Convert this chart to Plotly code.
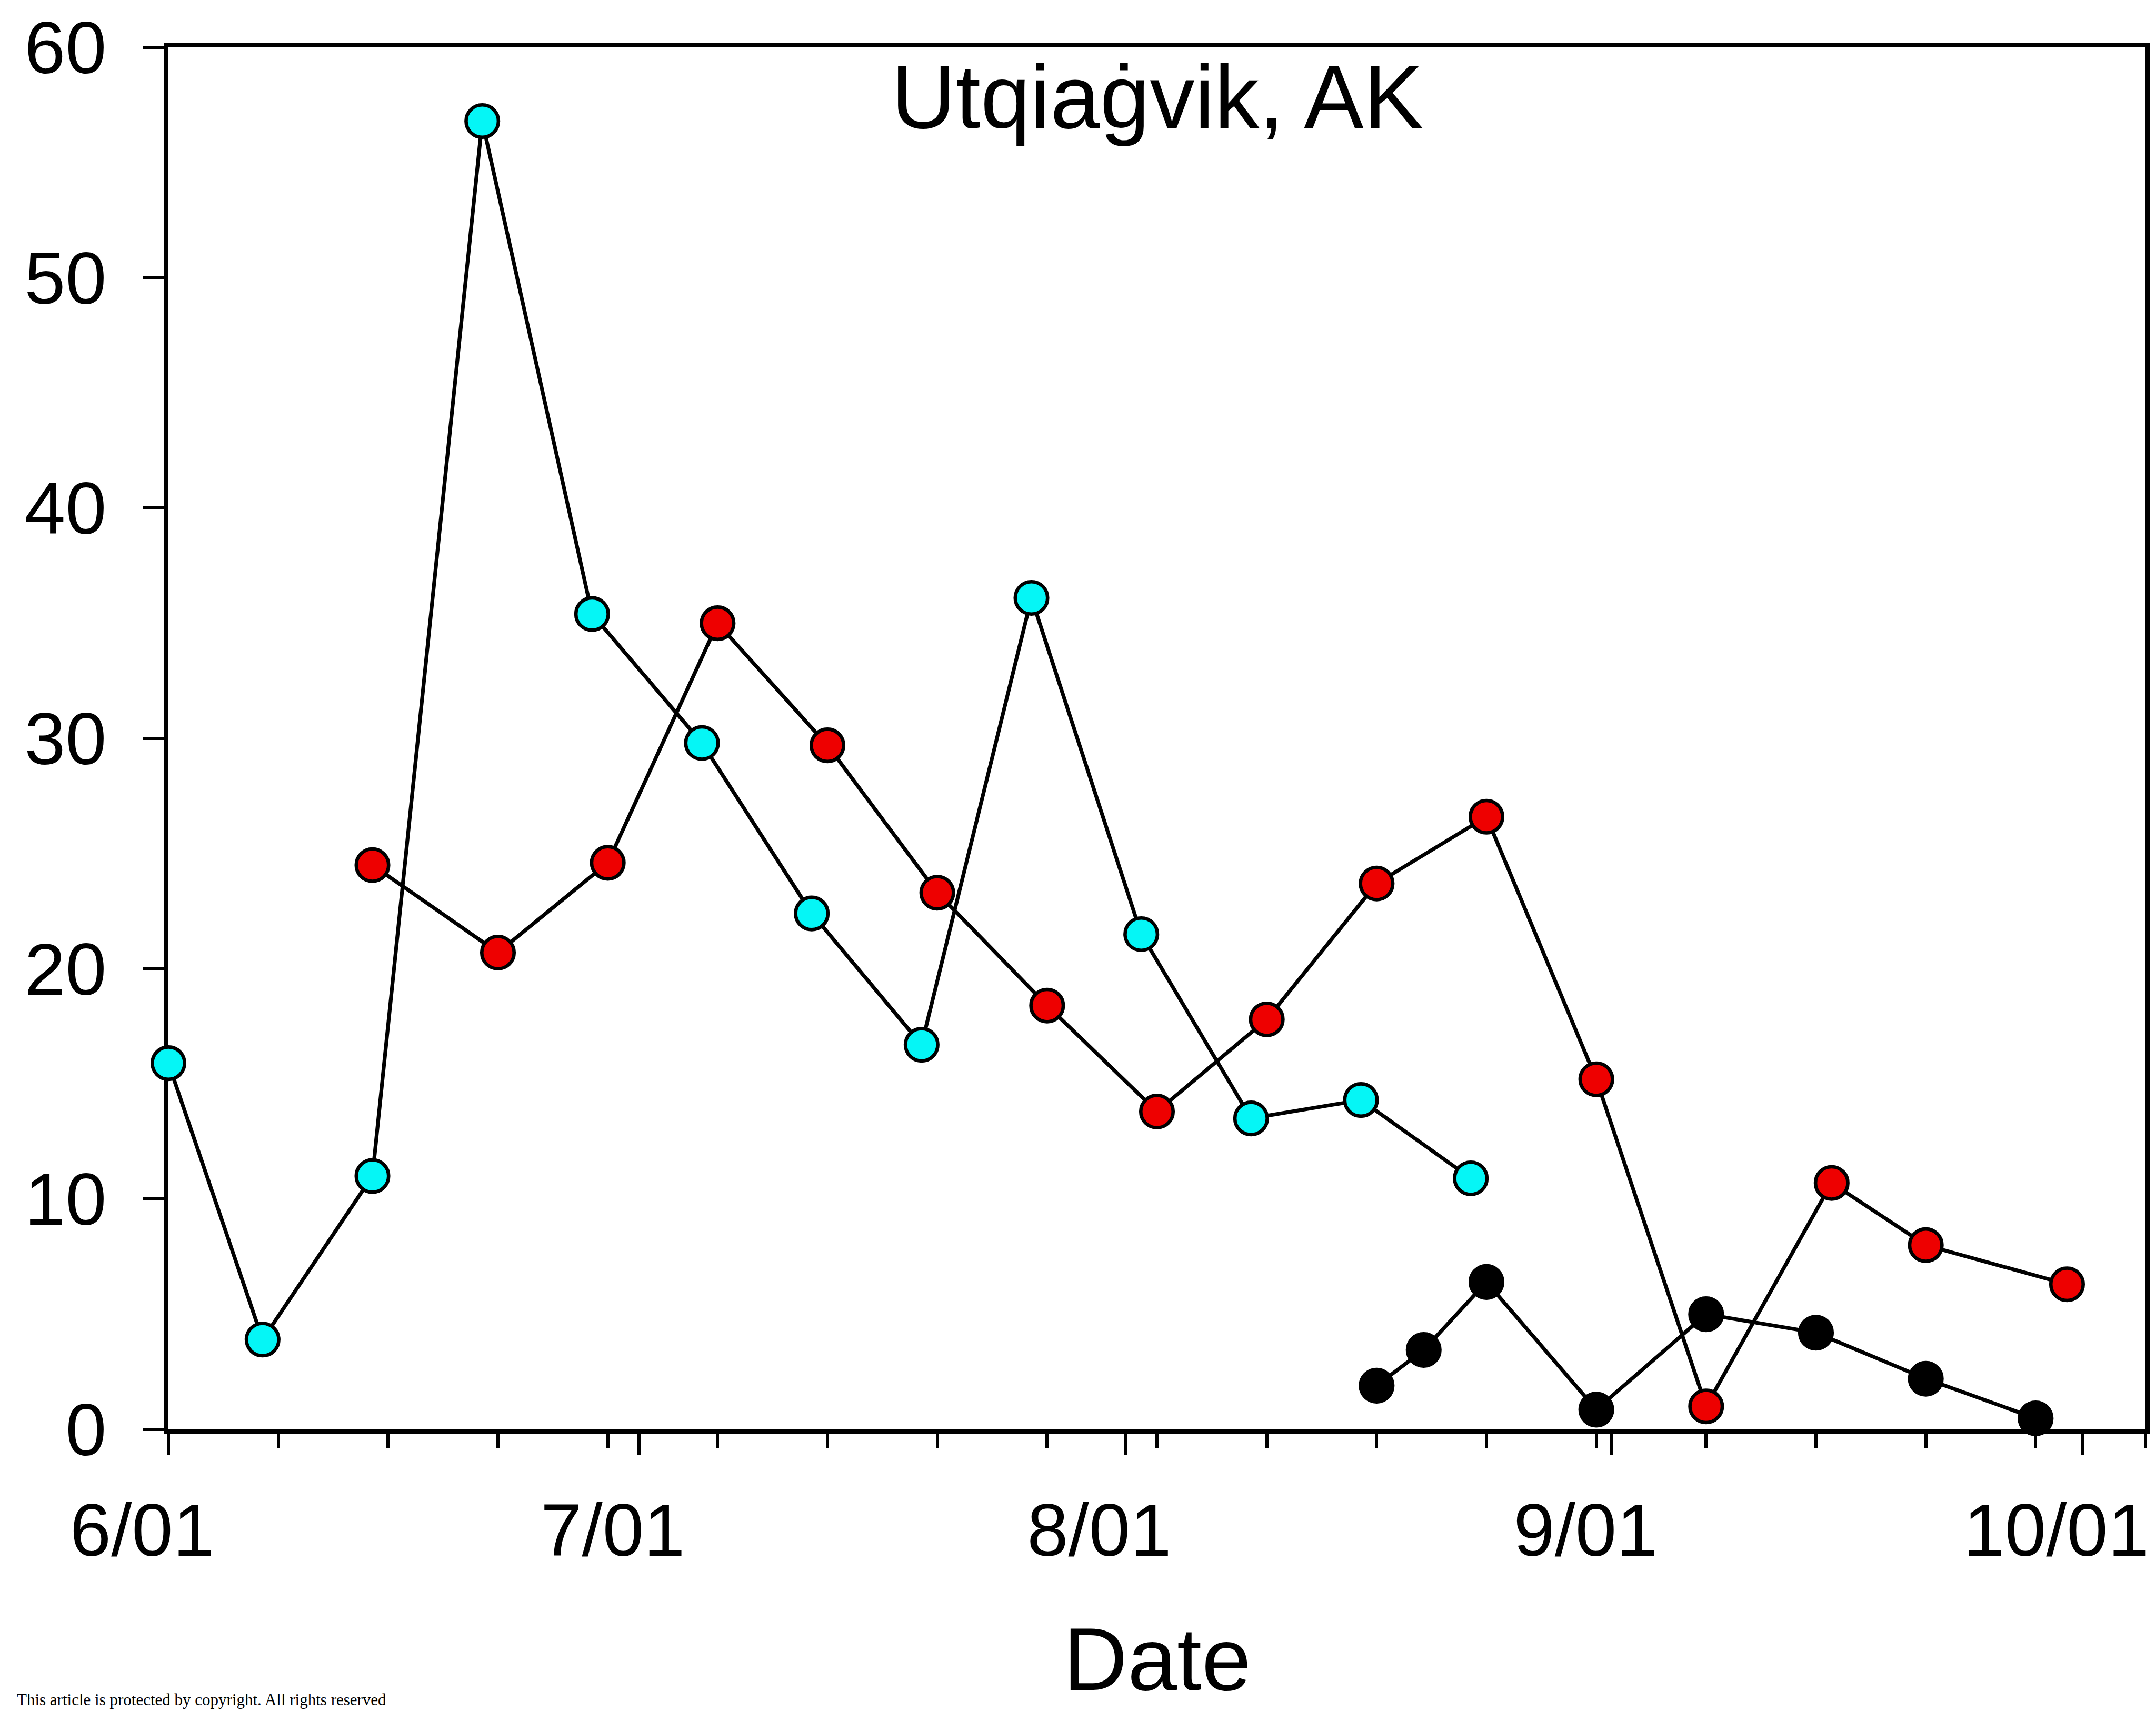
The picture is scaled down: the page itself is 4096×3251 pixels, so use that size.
import plotly.graph_objects as go

# ---- data ----
cyan_dates = ["2019-06-01", "2019-06-07", "2019-06-14", "2019-06-21", "2019-06-28",
              "2019-07-05", "2019-07-12", "2019-07-19", "2019-07-26", "2019-08-02",
              "2019-08-09", "2019-08-16", "2019-08-23"]
cyan_vals = [15.9, 3.9, 11.0, 56.8, 35.4, 29.8, 22.4, 16.7, 36.1, 21.5, 13.5, 14.3, 10.9]

red_dates = ["2019-06-14", "2019-06-22", "2019-06-29", "2019-07-06", "2019-07-13",
             "2019-07-20", "2019-07-27", "2019-08-03", "2019-08-10", "2019-08-17",
             "2019-08-24", "2019-08-31", "2019-09-07", "2019-09-15", "2019-09-21",
             "2019-09-30"]
red_vals = [24.5, 20.7, 24.6, 35.0, 29.7, 23.3, 18.4, 13.8, 17.8, 23.7, 26.6, 15.2,
            1.0, 10.7, 8.0, 6.3]

black_dates = ["2019-08-17", "2019-08-20", "2019-08-24", "2019-08-31", "2019-09-07",
               "2019-09-14", "2019-09-21", "2019-09-28"]
black_vals = [1.9, 3.45, 6.4, 0.86, 5.0, 4.2, 2.2, 0.48]

title_text = "Utqiaġvik, AK"
x_title = "Date"
footer_text = "This article is protected by copyright. All rights reserved"

x_range = ["2019-06-01", "2019-10-05"]
y_range = [0, 60]

# ---- styling ----
FONT = "Liberation Sans, Arial, sans-serif"
W, H = 4096, 3251
ML, MR, MT, MB = 320, 20, 82, 535
LW = 7.2
MS = 61.5
MLW = 6.6

fig = go.Figure()
series = [
    (cyan_dates, cyan_vals, "#05f6f6"),
    (red_dates, red_vals, "#ee0000"),
    (black_dates, black_vals, "#000000"),
]
for xs, ys, col in series:
    fig.add_trace(go.Scatter(
        x=xs, y=ys, mode="lines+markers",
        line=dict(color="black", width=LW),
        marker=dict(size=MS, color=col, line=dict(color="black", width=MLW)),
        cliponaxis=False, showlegend=False,
    ))

plot_h = H - MT - MB

def py(pix):
    return (H - MB - pix) / plot_h

fig.add_annotation(text=title_text, xref="paper", yref="paper", x=0.5, y=py(176),
                   xanchor="center", yanchor="middle", showarrow=False,
                   font=dict(family=FONT, size=170, color="black"))
fig.add_annotation(text=x_title, xref="paper", yref="paper", x=0.5, y=py(3251),
                   xanchor="center", yanchor="bottom", showarrow=False,
                   font=dict(family=FONT, size=169, color="black"))
fig.add_annotation(text=footer_text, xref="paper", yref="paper",
                   x=(30 - ML) / (W - ML - MR), y=py(3251),
                   xanchor="left", yanchor="bottom", showarrow=False,
                   font=dict(family="Liberation Serif, serif", size=31, color="black"))

fig.update_layout(
    width=W, height=H,
    margin=dict(l=ML, r=MR, t=MT, b=MB, pad=0),
    paper_bgcolor="white", plot_bgcolor="white",
    font=dict(family=FONT, color="black"),
)
fig.update_xaxes(
    type="date", range=x_range, showgrid=False, zeroline=False,
    showline=True, linecolor="black", linewidth=7.5, mirror=True,
    ticks="outside", ticklen=41, tickwidth=5.5, tickcolor="black",
    dtick="M1", tick0="2019-06-01", tickformat="%-m/%d",
    tickfont=dict(family=FONT, size=141, color="black"),
    ticklabelstandoff=22, ticklabelshift=-50,
    minor=dict(ticks="outside", ticklen=27, tickwidth=5.5, tickcolor="black",
               dtick=7 * 86400000, tick0="2019-06-01", showgrid=False),
    layer="below traces",
)
fig.update_yaxes(
    range=y_range, dtick=10, tick0=0, showgrid=False, zeroline=False,
    showline=True, linecolor="black", linewidth=7.5, mirror=True,
    ticks="outside", ticklen=40, tickwidth=6, tickcolor="black",
    tickfont=dict(family=FONT, size=140, color="black"),
    ticklabelstandoff=42,
    layer="below traces",
)

fig.write_html("out.html")
